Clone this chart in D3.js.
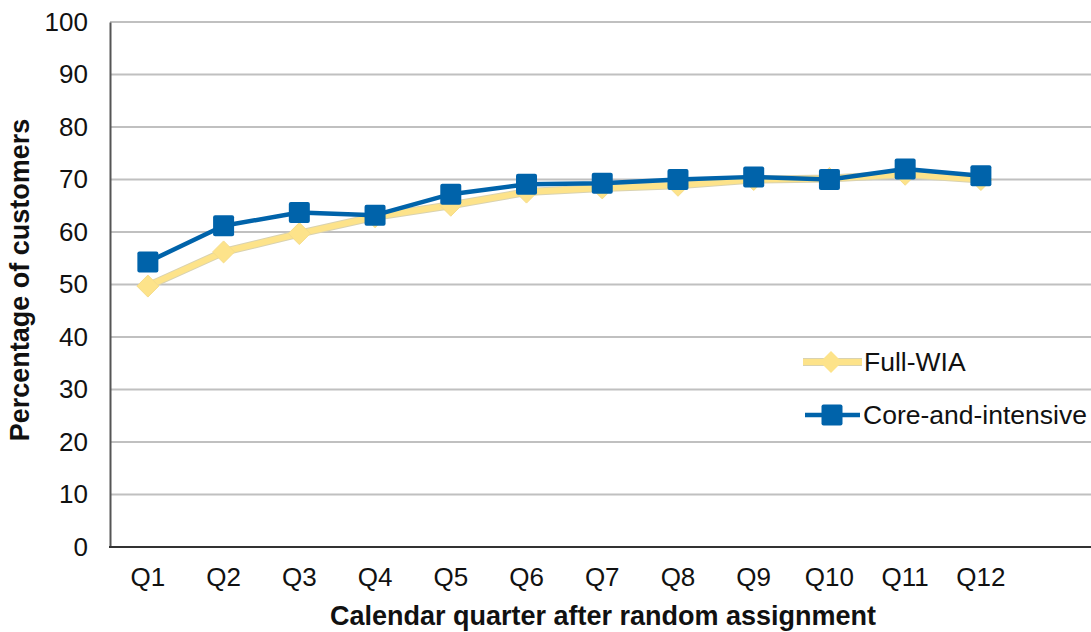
<!DOCTYPE html>
<html>
<head>
<meta charset="utf-8">
<script src="https://cdn.jsdelivr.net/npm/d3@7"></script>
<style>
  html, body { margin: 0; padding: 0; background: #fff; }
  svg { display: block; font-family: "Liberation Sans", Arial, sans-serif; }
</style>
</head>
<body>
<svg id="chart" width="1091" height="632"></svg>
<script>
const categories = ["Q1","Q2","Q3","Q4","Q5","Q6","Q7","Q8","Q9","Q10","Q11","Q12"];
const fullWIA = [49.7, 56.2, 59.7, 62.9, 65.1, 67.6, 68.4, 68.9, 70.0, 70.2, 71.0, 70.0];
const coreIntensive = [54.3, 61.2, 63.7, 63.2, 67.2, 69.1, 69.3, 70.0, 70.5, 70.0, 72.0, 70.7];
const yTicks = [0, 10, 20, 30, 40, 50, 60, 70, 80, 90, 100];
const seriesNames = ["Full-WIA", "Core-and-intensive"];

(function () {
const svg = d3.select("#chart");
const W = 1091;
const plotLeft = 110, plotTop = 22, plotBottom = 547;
const bandW = 75.73;
const tickFont = 26, legendFont = 26.5, titleFont = 27;

const x = d3.scaleBand().domain(categories).range([plotLeft, plotLeft + bandW * categories.length]);
const y = d3.scaleLinear().domain([0, 100]).range([plotBottom, plotTop]);
const cx = d => x(d) + x.bandwidth() / 2;

// gridlines
svg.append("g").selectAll("line").data(yTicks.filter(t => t > 0)).join("line")
  .attr("x1", plotLeft).attr("x2", W)
  .attr("y1", d => y(d)).attr("y2", d => y(d))
  .attr("stroke", "#c0c0c0").attr("stroke-width", 2);

// y axis
const yAxis = d3.axisLeft(y).tickValues(yTicks).tickSize(0).tickPadding(22);
const gy = svg.append("g").attr("transform", `translate(${plotLeft},0)`).call(yAxis);
gy.select(".domain").attr("stroke", "#555").attr("stroke-width", 2);
gy.selectAll("text").attr("font-size", tickFont).attr("fill", "#111")
  .attr("font-family", "'Liberation Sans', Arial, sans-serif");

// x axis
const xAxis = d3.axisBottom(x).tickSize(0).tickPadding(21);
const gx = svg.append("g").attr("transform", `translate(0,${plotBottom})`).call(xAxis);
gx.select(".domain").remove();
svg.append("line").attr("x1", plotLeft - 1).attr("x2", W).attr("y1", plotBottom).attr("y2", plotBottom)
  .attr("stroke", "#333").attr("stroke-width", 2);
gx.selectAll("text").attr("font-size", tickFont).attr("fill", "#111")
  .attr("font-family", "'Liberation Sans', Arial, sans-serif");

// axis titles
svg.append("text").attr("x", 603).attr("y", 625).attr("text-anchor", "middle")
  .attr("font-size", titleFont).attr("font-weight", "bold").attr("fill", "#111")
  .text("Calendar quarter after random assignment");
svg.append("text").attr("transform", `translate(29,280) rotate(-90)`)
  .attr("text-anchor", "middle").attr("font-size", titleFont).attr("font-weight", "bold").attr("fill", "#111")
  .text("Percentage of customers");

const yellow = "#fde38a", blue = "#0063aa";
const line = d3.line().x((d, i) => cx(categories[i])).y(d => y(d));

// Full-WIA
svg.append("path").datum(fullWIA).attr("d", line).attr("fill", "none")
  .attr("stroke", "#d9d2b0").attr("stroke-width", 8).attr("stroke-linejoin", "round");
svg.append("path").datum(fullWIA).attr("d", line).attr("fill", "none")
  .attr("stroke", yellow).attr("stroke-width", 6).attr("stroke-linejoin", "round");
const diamond = r => `M0,${-r}L${r},0L0,${r}L${-r},0Z`;
svg.append("g").selectAll("path").data(fullWIA).join("path")
  .attr("transform", (d, i) => `translate(${cx(categories[i])},${y(d)})`)
  .attr("d", diamond(11)).attr("fill", yellow).attr("stroke", "#f5dc8a").attr("stroke-width", 1);

// Core-and-intensive
svg.append("path").datum(coreIntensive).attr("d", line).attr("fill", "none")
  .attr("stroke", blue).attr("stroke-width", 4.5).attr("stroke-linejoin", "round");
svg.append("g").selectAll("rect").data(coreIntensive).join("rect")
  .attr("x", (d, i) => cx(categories[i]) - 10.5).attr("y", d => y(d) - 10.5)
  .attr("width", 21).attr("height", 21).attr("rx", 2)
  .attr("fill", blue);

// legend
const lg = svg.append("g");
lg.append("line").attr("x1", 803).attr("x2", 862).attr("y1", 362).attr("y2", 362)
  .attr("stroke", "#d9d2b0").attr("stroke-width", 8);
lg.append("line").attr("x1", 803).attr("x2", 862).attr("y1", 362).attr("y2", 362)
  .attr("stroke", yellow).attr("stroke-width", 6);
lg.append("path").attr("transform", "translate(831,362)").attr("d", diamond(11)).attr("fill", yellow);
lg.append("text").attr("x", 864).attr("y", 362).attr("dy", "0.35em").attr("font-size", legendFont).attr("fill", "#111")
  .text(seriesNames[0]);
lg.append("line").attr("x1", 805).attr("x2", 860).attr("y1", 415).attr("y2", 415)
  .attr("stroke", blue).attr("stroke-width", 4.5);
lg.append("rect").attr("x", 821.5).attr("y", 404.5).attr("width", 21).attr("height", 21).attr("rx", 2).attr("fill", blue);
lg.append("text").attr("x", 863).attr("y", 415).attr("dy", "0.35em").attr("font-size", legendFont).attr("fill", "#111")
  .text(seriesNames[1]);
})();
</script>
</body>
</html>
